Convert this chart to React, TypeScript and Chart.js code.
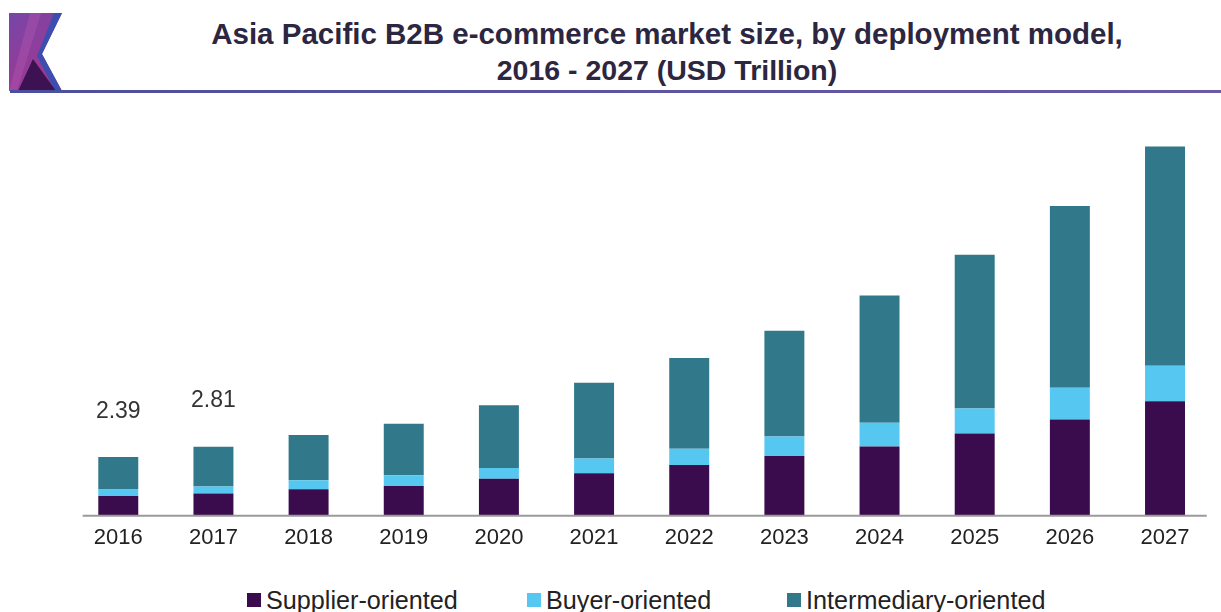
import React, { useEffect, useRef } from "react";
import { Chart, registerables } from "chart.js";

Chart.register(...registerables);

const categories = ["2016", "2017", "2018", "2019", "2020", "2021", "2022", "2023", "2024", "2025", "2026", "2027"];
const supplier = [0.79, 0.89, 1.07, 1.2, 1.5, 1.72, 2.06, 2.43, 2.82, 3.36, 3.93, 4.68];
const buyer = [0.27, 0.29, 0.37, 0.44, 0.44, 0.61, 0.67, 0.8, 0.98, 1.02, 1.3, 1.46];
const intermediary = [1.33, 1.63, 1.85, 2.12, 2.58, 3.11, 3.73, 4.35, 5.22, 6.32, 7.47, 9.0];
const totalLabels = ["2.39", "2.81"];

const seriesNames = ["Supplier-oriented", "Buyer-oriented", "Intermediary-oriented"];
const seriesColors = ["#3b0c4d", "#56c7f0", "#30788a"];

const FONT = "'Liberation Sans', Arial, sans-serif";

const totalsPlugin = {
  id: "totalsPlugin",
  afterDatasetsDraw(chart: any) {
    const { ctx, scales } = chart;
    const xs = scales.x;
    const ys = scales.y;
    ctx.save();
    // axis line
    const catW = xs.getPixelForValue(1) - xs.getPixelForValue(0);
    const x0 = xs.getPixelForValue(0) - 0.374 * catW;
    const x1 = xs.getPixelForValue(categories.length - 1) + 0.438 * catW;
    const yb = ys.getPixelForValue(0);
    ctx.strokeStyle = "#9a9a9a";
    ctx.lineWidth = 2;
    ctx.beginPath();
    ctx.moveTo(x0, yb + 0.5);
    ctx.lineTo(x1, yb + 0.5);
    ctx.stroke();
    // total labels
    ctx.fillStyle = "#333333";
    ctx.font = `23px ${FONT}`;
    ctx.textAlign = "center";
    ctx.textBaseline = "alphabetic";
    totalLabels.forEach((label, i) => {
      const sum = supplier[i] + buyer[i] + intermediary[i];
      const x = xs.getPixelForValue(i);
      const y = ys.getPixelForValue(sum) - 39.5;
      ctx.fillText(label, x, y);
    });
    ctx.restore();
  },
};

function Logo() {
  return (
    <svg width={70} height={100} style={{ position: "absolute", left: 0, top: 0 }}>
      <defs>
        <linearGradient id="lg1" x1="0" y1="0" x2="0.6" y2="1">
          <stop offset="0" stopColor="#7646a8" />
          <stop offset="1" stopColor="#a2378f" />
        </linearGradient>
      </defs>
      <polygon points="9,13 62,13 42,54 62,91 9,91" fill="url(#lg1)" />
      <polygon points="54,13 62,13 42,54 62,91 55,91 37,56" fill="#3c4fb0" />
      <polygon points="30,13 41,13 17,91 9,91" fill="#b055b0" opacity={0.45} />
      <polygon points="18,91 33,59 56,91" fill="#3d1252" />
    </svg>
  );
}

export default function App() {
  const ref = useRef<HTMLCanvasElement | null>(null);

  useEffect(() => {
    if (!ref.current) return;
    const data = [supplier, buyer, intermediary];
    const chart = new Chart(ref.current, {
      type: "bar",
      data: {
        labels: categories,
        datasets: seriesNames.map((name, k) => ({
          label: name,
          data: data[k],
          backgroundColor: seriesColors[k],
          borderWidth: 0,
          categoryPercentage: 1,
          barPercentage: 0.42,
        })),
      },
      options: {
        responsive: false,
        animation: false,
        devicePixelRatio: 1,
        layout: { padding: { left: 70.7, right: 8.4, top: 25.6, bottom: 0.4 } },
        plugins: {
          legend: { display: false },
          tooltip: { enabled: false },
          title: { display: false },
        },
        scales: {
          x: {
            stacked: true,
            grid: { display: false, drawTicks: false },
            border: { display: false },
            ticks: {
              color: "#222222",
              padding: 10,
              font: { family: FONT, size: 22 },
              maxRotation: 0,
              autoSkip: false,
            },
          },
          y: {
            stacked: true,
            display: false,
            min: 0,
            max: 16,
          },
        },
      },
      plugins: [totalsPlugin],
    });
    return () => chart.destroy();
  }, []);

  const legendLefts = [247, 527, 787];

  return (
    <div style={{ position: "absolute", left: 0, top: 0, width: 1221, height: 612, background: "#ffffff", overflow: "hidden", fontFamily: FONT }}>
      <Logo />
      <div
        style={{
          position: "absolute",
          left: 113,
          width: 1108,
          top: 16,
          textAlign: "center",
          fontWeight: "bold",
          color: "#2d2640",
        }}
      >
        <div style={{ fontSize: 29.5, lineHeight: "36px" }}>Asia Pacific B2B e-commerce market size, by deployment model,</div>
        <div style={{ fontSize: 28.5, lineHeight: "36px" }}>2016 - 2027 (USD Trillion)</div>
      </div>
      <div style={{ position: "absolute", left: 10, top: 90, width: 1211, height: 3, background: "linear-gradient(90deg, #4b4f9d, #6a5aa6)" }} />
      <canvas ref={ref} width={1221} height={462} style={{ position: "absolute", left: 0, top: 100, width: 1221, height: 462 }} />
      {seriesNames.map((name, k) => (
        <div key={name} style={{ position: "absolute", left: legendLefts[k], top: 588, height: 26, display: "flex", alignItems: "flex-start", whiteSpace: "nowrap" }}>
          <div style={{ width: 14, height: 14, marginTop: 5, background: seriesColors[k] }} />
          <span style={{ marginLeft: 5, fontSize: 25.2, lineHeight: "24px", color: "#222222" }}>{name}</span>
        </div>
      ))}
    </div>
  );
}
